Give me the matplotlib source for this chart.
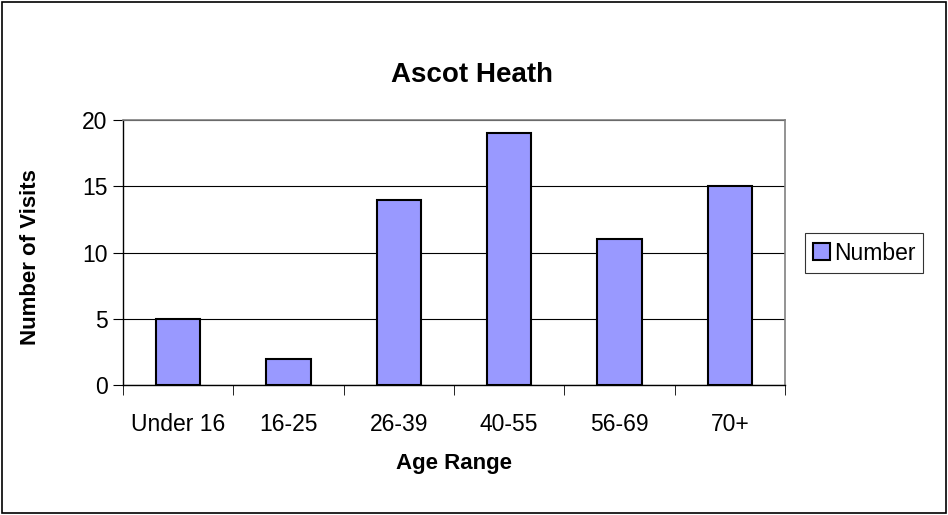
import matplotlib.pyplot as plt
from matplotlib.patches import Rectangle

plt.rcParams['font.family'] = ['Liberation Sans', 'DejaVu Sans']

categories = ['Under 16', '16-25', '26-39', '40-55', '56-69', '70+']
visits = [5, 2, 14, 19, 11, 15]

W, H = 948, 515
fig = plt.figure(figsize=(9.48, 5.15), dpi=100)
ax = fig.add_axes([123 / W, 1 - 385 / H, 662 / W, 265 / H])

# outer chart border
fig.patches.append(Rectangle((0.002, 0.003), 0.996, 0.994, transform=fig.transFigure,
                             fill=False, edgecolor='black', linewidth=1.2))

x = range(len(categories))
ax.bar(x, visits, width=0.4, color='#9999FF', edgecolor='black', linewidth=1.5,
       label='Number', zorder=3)

ax.set_xlim(-0.5, len(categories) - 0.5)
ax.set_ylim(0, 20)
ax.set_yticks([0, 5, 10, 15, 20])
ax.set_xticks(list(x))
ax.set_xticklabels(categories, fontsize=16.5)
ax.set_xticks([i - 0.5 for i in range(len(categories) + 1)], minor=True)
ax.tick_params(axis='x', which='major', length=0, pad=20)
ax.tick_params(axis='x', which='minor', length=7, direction='out', color='black')
ax.tick_params(axis='y', length=7, direction='out', labelsize=16.5, pad=4)
ax.yaxis.grid(True, color='black', linewidth=0.8, zorder=0)

for s in ['top', 'right']:
    ax.spines[s].set_color('#808080')
    ax.spines[s].set_linewidth(1.2)
for s in ['left', 'bottom']:
    ax.spines[s].set_color('black')
    ax.spines[s].set_linewidth(1.0)

fig.text(472 / W, 1 - 75 / H, 'Ascot Heath', fontsize=20, fontweight='bold',
         ha='center', va='center')
fig.text(454 / W, 1 - 463 / H, 'Age Range', fontsize=16, fontweight='bold',
         ha='center', va='center')
fig.text(31 / W, 1 - 257 / H, 'Number of Visits', fontsize=16, fontweight='bold',
         ha='center', va='center', rotation=90)

leg = ax.legend(loc='center left', bbox_to_anchor=(805 / W, 1 - 253 / H), bbox_transform=fig.transFigure,
                frameon=True, fancybox=False, fontsize=16.5, handlelength=0.75, handleheight=0.75,
                handletextpad=0.15, borderpad=0.35, borderaxespad=0)
leg.get_frame().set_edgecolor('black')
leg.get_frame().set_linewidth(0.8)

plt.savefig('out.png', dpi=100)
